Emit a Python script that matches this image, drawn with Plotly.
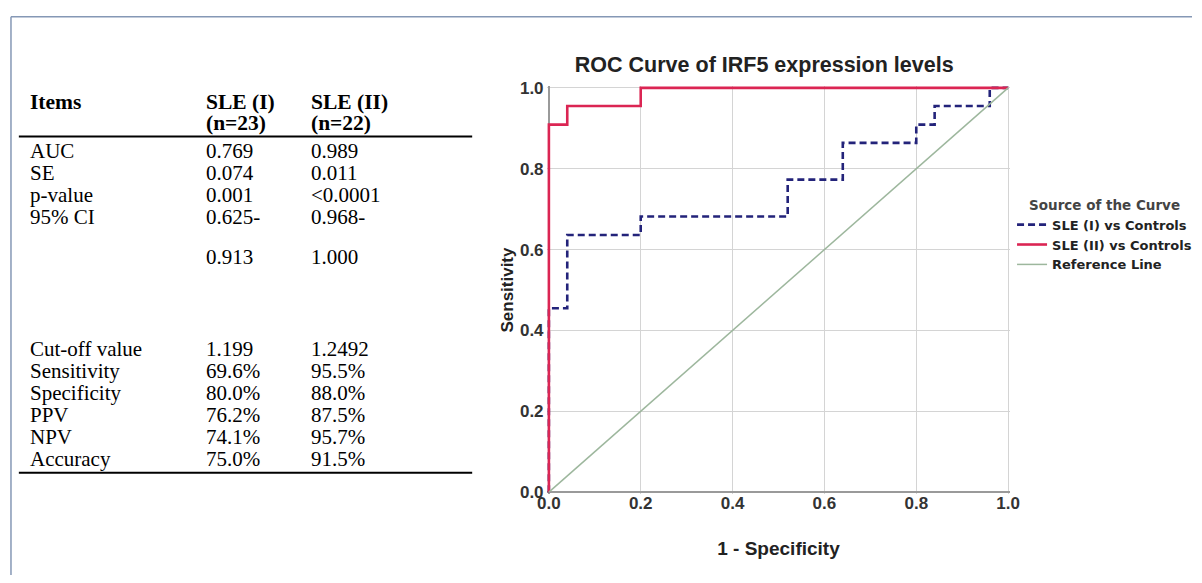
import plotly.graph_objects as go

# ---------------- data ----------------
# ROC curve corner points (1 - specificity, sensitivity)
sle1_fpr = [0.0, 0.0, 0.04, 0.20, 0.52, 0.64, 0.80, 0.84, 0.96, 1.0]
sle1_tpr = [0.0, 0.455, 0.636, 0.682, 0.773, 0.864, 0.909, 0.955, 1.0, 1.0]
sle2_fpr = [0.0, 0.0, 0.04, 0.20, 1.0]
sle2_tpr = [0.0, 0.909, 0.955, 1.0, 1.0]
ref_x = [0.0, 1.0]
ref_y = [0.0, 1.0]
series_names = ["SLE (I) vs Controls", "SLE (II) vs Controls", "Reference Line"]
tick_vals = [0.0, 0.2, 0.4, 0.6, 0.8, 1.0]
tick_text = ["0.0", "0.2", "0.4", "0.6", "0.8", "1.0"]

# summary table
header_top = ["Items", "SLE (I)", "SLE (II)"]
header_bottom = ["", "(n=23)", "(n=22)"]
items = ["AUC", "SE", "p-value", "95% CI", "Cut-off value", "Sensitivity",
         "Specificity", "PPV", "NPV", "Accuracy"]
sle1_vals = ["0.769", "0.074", "0.001", "0.625-|0.913", "1.199", "69.6%",
             "80.0%", "76.2%", "74.1%", "75.0%"]
sle2_vals = ["0.989", "0.011", "&lt;0.0001", "0.968-|1.000", "1.2492", "95.5%",
             "88.0%", "87.5%", "95.7%", "91.5%"]

# ---------------- layout helpers ----------------
W, H = 1202, 583
def px(x):
    return x / W
def py(y):
    return 1 - y / H

# plot area in pixels: value 0 -> 548, 1 -> 1015 ; y 0 -> 498, 1 -> 83
x0p, x1p = 548, 1015
y0p, y1p = 498, 83
pad = 0.005
xr = [-pad, 1 + pad]
yr = [-pad, 1 + pad]
xdom = [px(x0p - pad * (x1p - x0p)), px(x1p + pad * (x1p - x0p))]
ydom = [py(y0p + pad * (y0p - y1p)), py(y1p - pad * (y0p - y1p))]

SANS = "Liberation Sans, Arial, sans-serif"
WIDE = "DejaVu Sans, Verdana, sans-serif"
SERIF = "Liberation Serif, Times New Roman, serif"

fig = go.Figure()
fig.add_trace(go.Scatter(
    x=sle1_fpr, y=sle1_tpr, mode="lines", name=series_names[0],
    line=dict(color="#23237a", width=2.6, dash="7px,4px", shape="hv")))
fig.add_trace(go.Scatter(
    x=sle2_fpr, y=sle2_tpr, mode="lines", name=series_names[1],
    line=dict(color="#db2553", width=2.6, shape="hv")))
fig.add_trace(go.Scatter(
    x=ref_x, y=ref_y, mode="lines", name=series_names[2],
    line=dict(color="#9db79d", width=1.5)))

axis_common = dict(
    tickvals=tick_vals, ticktext=tick_text, showgrid=True,
    gridcolor="#d4d4d4", gridwidth=1, zeroline=True, zerolinecolor="#9a9a9a",
    zerolinewidth=1.5, showline=False, ticks="",
    tickfont=dict(family=SANS, size=17, color="#333333", weight="bold"),
    fixedrange=True,
)

fig.update_layout(
    width=W, height=H,
    margin=dict(l=0, r=0, t=0, b=0),
    paper_bgcolor="white", plot_bgcolor="white",
    title=dict(text="ROC Curve of IRF5 expression levels",
               x=px(767), y=py(59), xanchor="center", yanchor="middle",
               xref="paper", yref="paper",
               font=dict(family=SANS, size=21.5, color="#222222", weight="bold")),
    xaxis=dict(domain=xdom, range=xr, ticklabelstandoff=-3,
               title=dict(text="1 - Specificity", standoff=29,
                          font=dict(family=SANS, size=19, color="#222222", weight="bold")),
               **axis_common),
    yaxis=dict(domain=ydom, range=yr, ticklabelstandoff=2,
               title=dict(text="Sensitivity", standoff=1,
                          font=dict(family=SANS, size=17, color="#222222", weight="bold")),
               **axis_common),
    showlegend=True,
    legend=dict(x=px(1019), y=py(190), xanchor="left", yanchor="top",
                bgcolor="rgba(0,0,0,0)", borderwidth=0,
                font=dict(family=WIDE, size=13, color="#222222", weight="bold"),
                title=dict(text="Source of the Curve", side="top center",
                           font=dict(family=WIDE, size=13.5, color="#444444", weight="bold")),
                itemwidth=30, tracegroupgap=0),
)

# ---------------- table (text + rules) ----------------
TFONT = 21
col_x = [18, 197, 304]
header_y = [98, 119]
row_start, row_step = 148, 22.6
row_slot = [0, 1, 2, 3, 9, 10, 11, 12, 13, 14]
wrap_offset = 1.82  # second line of a wrapped cell, in slots

ann = []
for j in range(3):
    for k, txt in enumerate([header_top[j], header_bottom[j]]):
        if txt:
            ann.append(dict(text=f"<b>{txt}</b>", x=px(col_x[j]), y=py(header_y[k]),
                            xref="paper", yref="paper", xanchor="left", yanchor="middle",
                            showarrow=False, font=dict(family=SERIF, size=21.5, color="black")))

for i, name in enumerate(items):
    yy = row_start + row_slot[i] * row_step
    cells = [name, sle1_vals[i], sle2_vals[i]]
    for j, cell in enumerate(cells):
        parts = cell.split("|")
        for k, part in enumerate(parts):
            ann.append(dict(text=part, x=px(col_x[j]), y=py(yy + k * wrap_offset * row_step),
                            xref="paper", yref="paper", xanchor="left", yanchor="middle",
                            showarrow=False, font=dict(family=SERIF, size=TFONT, color="black")))

fig.update_layout(annotations=ann)

shapes = [
    # header rule and bottom rule of the table
    dict(type="line", xref="paper", yref="paper", x0=px(9), x1=px(470),
         y0=py(133), y1=py(133), line=dict(color="black", width=2)),
    dict(type="line", xref="paper", yref="paper", x0=px(9), x1=px(470),
         y0=py(478), y1=py(478), line=dict(color="black", width=2)),
    # outer frame (left and top)
    dict(type="line", xref="paper", yref="paper", x0=px(1), x1=px(1),
         y0=py(10), y1=py(583), line=dict(color="#8598b5", width=1.5)),
    dict(type="line", xref="paper", yref="paper", x0=px(1), x1=px(1202),
         y0=py(10), y1=py(10), line=dict(color="#8598b5", width=1.5)),
]
fig.update_layout(shapes=shapes)

fig.write_html("out.html")
